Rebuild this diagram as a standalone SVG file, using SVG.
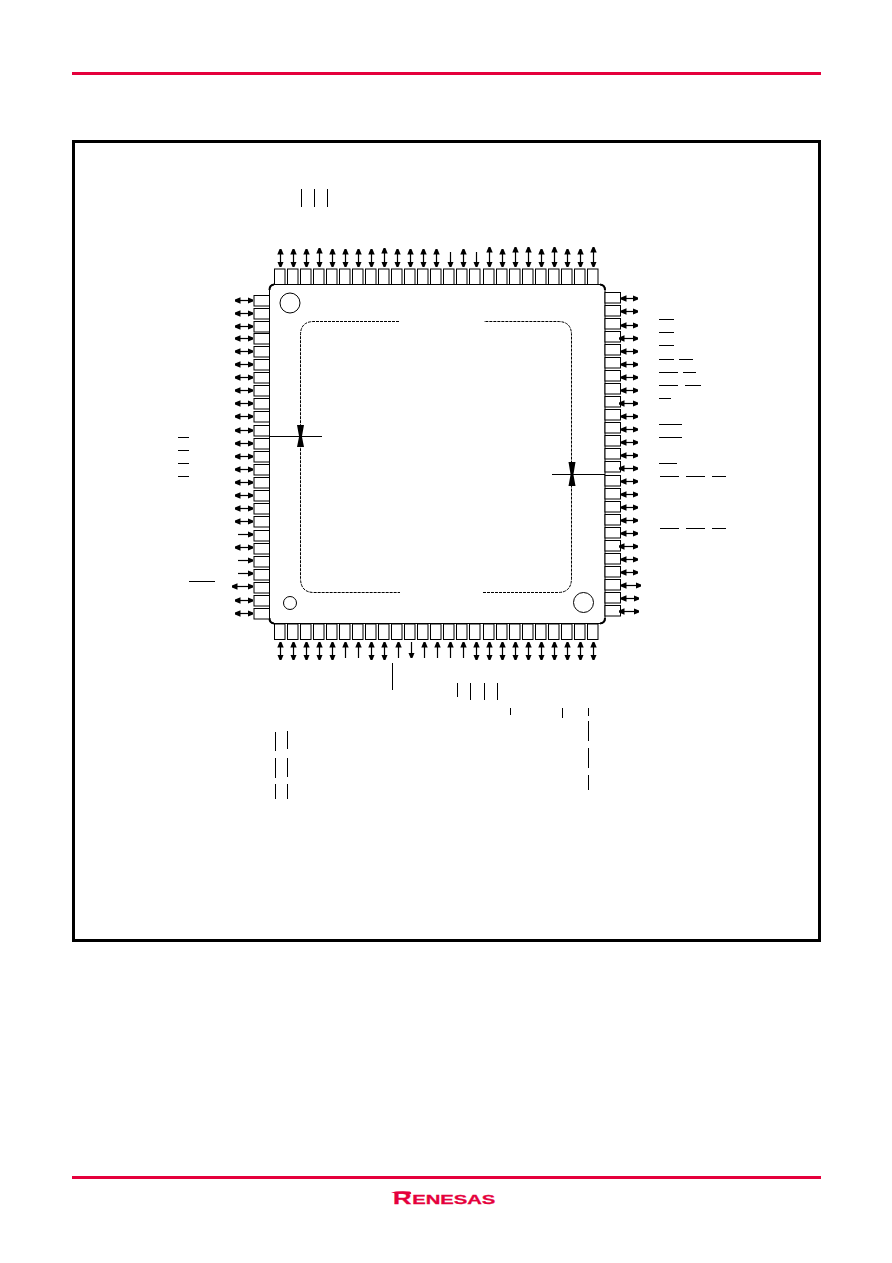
<svg xmlns="http://www.w3.org/2000/svg" width="892" height="1263" viewBox="0 0 892 1263">
<style>
.pin{fill:#fff;stroke:#000;stroke-width:1}
.bar{stroke:#000;stroke-width:1;fill:none}
.red{fill:#e5003c}
.dbl{stroke:#000;stroke-width:1.2;fill:none;marker-start:url(#ah);marker-end:url(#ah)}
.one{stroke:#000;stroke-width:1.2;fill:none;marker-end:url(#ah)}
.dash{stroke:#000;stroke-width:1;fill:none;stroke-dasharray:3 1}
.logo{font-family:"Liberation Sans",Arial,sans-serif;font-weight:700;fill:#e5003c;stroke:#e5003c;stroke-width:.3}
</style>
<defs>
<marker id="ah" markerUnits="userSpaceOnUse" markerWidth="7" markerHeight="7" refX="5.5" refY="3.5" orient="auto-start-reverse"><path d="M0 0.3L5.5 2.6V4.4L0 6.7Z" fill="#000"/></marker>
<g id="pinH"><rect class="pin" width="15.5" height="10.5"/></g>
<g id="pinV"><rect class="pin" width="10.5" height="15.5"/></g>
</defs>
<g id="header-rule"><rect class="red" x="72" y="72" width="749" height="3"/></g>
<g id="footer-rule"><rect class="red" x="72" y="1176" width="749" height="3"/></g>
<g id="frame"><rect x="73.5" y="141.5" width="746" height="799" fill="none" stroke="#000" stroke-width="3"/></g>
<g id="chip">
<path d="M274 284.5H600.5Q605 284.5 605 289V619Q605 623.5 600.5 623.5H274Q269.5 623.5 269.5 619V289Q269.5 284.5 274 284.5Z" fill="#fff" stroke="#000" stroke-width="1"/>
<path d="M269.5 290Q269.500 285 274 284.500M600 284.500Q605 285 605 290M605 618Q605 623 600 623.500M274 623.500Q269.500 623 269.500 618" fill="none" stroke="#000" stroke-width="2"/>
<circle cx="290" cy="303" r="10" fill="none" stroke="#000"/>
<circle cx="290" cy="603" r="6.500" fill="none" stroke="#000"/>
<circle cx="583.500" cy="602.500" r="10" fill="none" stroke="#000"/>
<path class="dash" d="M399 321.500H314Q300.500 321.500 300.500 335V578Q300.500 592.500 314 592.500H400M483 592.500H558Q571.500 592.500 571.500 578V335Q571.500 321.500 558 321.500H484"/>
</g>
<g id="pins-top">
<use id="pt1" href="#pinV" x="274.5" y="269"/><use id="pt2" href="#pinV" x="287.5" y="269"/><use id="pt3" href="#pinV" x="300.5" y="269"/><use id="pt4" href="#pinV" x="313.5" y="269"/><use id="pt5" href="#pinV" x="326.5" y="269"/><use id="pt6" href="#pinV" x="339.5" y="269"/><use id="pt7" href="#pinV" x="352.5" y="269"/><use id="pt8" href="#pinV" x="365.5" y="269"/><use id="pt9" href="#pinV" x="378.5" y="269"/><use id="pt10" href="#pinV" x="391.5" y="269"/><use id="pt11" href="#pinV" x="404.5" y="269"/><use id="pt12" href="#pinV" x="417.5" y="269"/><use id="pt13" href="#pinV" x="430.5" y="269"/><use id="pt14" href="#pinV" x="443.5" y="269"/><use id="pt15" href="#pinV" x="456.5" y="269"/><use id="pt16" href="#pinV" x="469.5" y="269"/><use id="pt17" href="#pinV" x="483.5" y="269"/><use id="pt18" href="#pinV" x="496.5" y="269"/><use id="pt19" href="#pinV" x="509.5" y="269"/><use id="pt20" href="#pinV" x="522.5" y="269"/><use id="pt21" href="#pinV" x="535.5" y="269"/><use id="pt22" href="#pinV" x="548.5" y="269"/><use id="pt23" href="#pinV" x="561.5" y="269"/><use id="pt24" href="#pinV" x="574.5" y="269"/><use id="pt25" href="#pinV" x="587.5" y="269"/>
</g>
<g id="pins-bottom">
<use id="pb1" href="#pinV" x="274.5" y="624"/><use id="pb2" href="#pinV" x="287.5" y="624"/><use id="pb3" href="#pinV" x="300.5" y="624"/><use id="pb4" href="#pinV" x="313.5" y="624"/><use id="pb5" href="#pinV" x="326.5" y="624"/><use id="pb6" href="#pinV" x="339.5" y="624"/><use id="pb7" href="#pinV" x="352.5" y="624"/><use id="pb8" href="#pinV" x="365.5" y="624"/><use id="pb9" href="#pinV" x="378.5" y="624"/><use id="pb10" href="#pinV" x="391.5" y="624"/><use id="pb11" href="#pinV" x="404.5" y="624"/><use id="pb12" href="#pinV" x="417.5" y="624"/><use id="pb13" href="#pinV" x="430.5" y="624"/><use id="pb14" href="#pinV" x="443.5" y="624"/><use id="pb15" href="#pinV" x="456.5" y="624"/><use id="pb16" href="#pinV" x="469.5" y="624"/><use id="pb17" href="#pinV" x="483.5" y="624"/><use id="pb18" href="#pinV" x="496.5" y="624"/><use id="pb19" href="#pinV" x="509.5" y="624"/><use id="pb20" href="#pinV" x="522.5" y="624"/><use id="pb21" href="#pinV" x="535.5" y="624"/><use id="pb22" href="#pinV" x="548.5" y="624"/><use id="pb23" href="#pinV" x="561.5" y="624"/><use id="pb24" href="#pinV" x="574.5" y="624"/><use id="pb25" href="#pinV" x="587.5" y="624"/>
</g>
<g id="pins-left">
<use id="pl1" href="#pinH" x="254" y="295.5"/><use id="pl2" href="#pinH" x="254" y="308.5"/><use id="pl3" href="#pinH" x="254" y="321.5"/><use id="pl4" href="#pinH" x="254" y="333.5"/><use id="pl5" href="#pinH" x="254" y="346.5"/><use id="pl6" href="#pinH" x="254" y="359.5"/><use id="pl7" href="#pinH" x="254" y="372.5"/><use id="pl8" href="#pinH" x="254" y="385.5"/><use id="pl9" href="#pinH" x="254" y="398.5"/><use id="pl10" href="#pinH" x="254" y="411.5"/><use id="pl11" href="#pinH" x="254" y="425.5"/><use id="pl12" href="#pinH" x="254" y="438.5"/><use id="pl13" href="#pinH" x="254" y="451.5"/><use id="pl14" href="#pinH" x="254" y="464.5"/><use id="pl15" href="#pinH" x="254" y="477.5"/><use id="pl16" href="#pinH" x="254" y="490.5"/><use id="pl17" href="#pinH" x="254" y="503.5"/><use id="pl18" href="#pinH" x="254" y="516.5"/><use id="pl19" href="#pinH" x="254" y="530.5"/><use id="pl20" href="#pinH" x="254" y="543.5"/><use id="pl21" href="#pinH" x="254" y="556.5"/><use id="pl22" href="#pinH" x="254" y="569.5"/><use id="pl23" href="#pinH" x="254" y="582.5"/><use id="pl24" href="#pinH" x="254" y="595.5"/><use id="pl25" href="#pinH" x="254" y="608.5"/>
</g>
<g id="pins-right">
<use id="pr1" href="#pinH" x="605" y="292.5"/><use id="pr2" href="#pinH" x="605" y="305.5"/><use id="pr3" href="#pinH" x="605" y="318.5"/><use id="pr4" href="#pinH" x="605" y="331.5"/><use id="pr5" href="#pinH" x="605" y="344.5"/><use id="pr6" href="#pinH" x="605" y="357.5"/><use id="pr7" href="#pinH" x="605" y="370.5"/><use id="pr8" href="#pinH" x="605" y="383.5"/><use id="pr9" href="#pinH" x="605" y="396.5"/><use id="pr10" href="#pinH" x="605" y="409.5"/><use id="pr11" href="#pinH" x="605" y="422.5"/><use id="pr12" href="#pinH" x="605" y="435.5"/><use id="pr13" href="#pinH" x="605" y="448.5"/><use id="pr14" href="#pinH" x="605" y="461.5"/><use id="pr15" href="#pinH" x="605" y="475.5"/><use id="pr16" href="#pinH" x="605" y="488.5"/><use id="pr17" href="#pinH" x="605" y="501.5"/><use id="pr18" href="#pinH" x="605" y="514.5"/><use id="pr19" href="#pinH" x="605" y="527.5"/><use id="pr20" href="#pinH" x="605" y="540.5"/><use id="pr21" href="#pinH" x="605" y="553.5"/><use id="pr22" href="#pinH" x="605" y="566.5"/><use id="pr23" href="#pinH" x="605" y="579.5"/><use id="pr24" href="#pinH" x="605" y="592.5"/><use id="pr25" href="#pinH" x="605" y="605.5"/>
</g>
<g id="connectors">
<path class="dbl" d="M280.5 249V267"/><path class="dbl" d="M293.5 249V267"/><path class="dbl" d="M306.5 249V267"/><path class="dbl" d="M319.5 248V267"/><path class="dbl" d="M332.5 249V267"/><path class="dbl" d="M345.5 249V267"/><path class="dbl" d="M358.5 249V267"/><path class="dbl" d="M371.5 249V267"/><path class="dbl" d="M384.5 248V267"/><path class="dbl" d="M397.5 249V267"/><path class="dbl" d="M410.5 249V267"/><path class="dbl" d="M423.5 249V267"/><path class="dbl" d="M436.5 249V267"/><path class="one" d="M450.5 252V267"/><path class="dbl" d="M463.5 249V267"/><path class="one" d="M476.5 252V267"/><path class="dbl" d="M489.5 247V267"/><path class="dbl" d="M502.5 249V267"/><path class="dbl" d="M515.5 247V267"/><path class="dbl" d="M528.5 247V267"/><path class="dbl" d="M541.5 249V267"/><path class="dbl" d="M554.5 247V267"/><path class="dbl" d="M567.5 249V267"/><path class="dbl" d="M580.5 249V267"/><path class="dbl" d="M593.5 247V267"/>
<path class="dbl" d="M280.5 642V660"/><path class="dbl" d="M293.5 642V660"/><path class="dbl" d="M306.5 642V660"/><path class="dbl" d="M319.5 642V660"/><path class="dbl" d="M332.5 642V660"/><path class="one" d="M345.5 658V642"/><path class="one" d="M358.5 658V642"/><path class="dbl" d="M371.5 642V660"/><path class="dbl" d="M384.5 642V660"/><path class="one" d="M398.5 658V642"/><path class="one" d="M411.5 642V658"/><path class="one" d="M424.5 658V642"/><path class="one" d="M437.5 658V642"/><path class="one" d="M450.5 658V642"/><path class="one" d="M463.5 658V642"/><path class="dbl" d="M476.5 642V660"/><path class="dbl" d="M489.5 642V660"/><path class="dbl" d="M502.5 642V660"/><path class="dbl" d="M515.5 642V660"/><path class="dbl" d="M528.5 642V660"/><path class="dbl" d="M541.5 642V660"/><path class="dbl" d="M554.5 642V660"/><path class="dbl" d="M567.5 642V660"/><path class="dbl" d="M580.5 642V660"/><path class="dbl" d="M593.5 642V660"/>
<path class="dbl" d="M235 300.5H253"/><path class="dbl" d="M235 313.5H253"/><path class="dbl" d="M235 326.5H253"/><path class="dbl" d="M235 338.5H253"/><path class="dbl" d="M235 351.5H253"/><path class="dbl" d="M235 364.5H253"/><path class="dbl" d="M235 377.5H253"/><path class="dbl" d="M235 390.5H253"/><path class="dbl" d="M235 403.5H253"/><path class="dbl" d="M235 416.5H253"/><path class="dbl" d="M235 430.5H253"/><path class="dbl" d="M235 443.5H253"/><path class="dbl" d="M235 456.5H253"/><path class="dbl" d="M235 469.5H253"/><path class="dbl" d="M235 482.5H253"/><path class="dbl" d="M235 495.5H253"/><path class="dbl" d="M235 508.5H253"/><path class="dbl" d="M235 521.5H253"/><path class="one" d="M238 534.5H253"/><path class="dbl" d="M235 547.5H253"/><path class="one" d="M238 560.5H253"/><path class="one" d="M238 573.5H253"/><path class="dbl" d="M232 586.5H253"/><path class="dbl" d="M235 600.5H253"/><path class="dbl" d="M235 613.5H253"/>
<path class="dbl" d="M621 298.5H638"/><path class="dbl" d="M621 311.5H638"/><path class="dbl" d="M621 325.5H638"/><path class="dbl" d="M619 338.5H638"/><path class="dbl" d="M621 351.5H638"/><path class="dbl" d="M621 364.5H638"/><path class="dbl" d="M621 377.5H638"/><path class="dbl" d="M621 390.5H638"/><path class="dbl" d="M619 403.5H638"/><path class="dbl" d="M621 416.5H638"/><path class="dbl" d="M621 429.5H638"/><path class="dbl" d="M621 442.5H638"/><path class="dbl" d="M621 455.5H638"/><path class="dbl" d="M619 468.5H638"/><path class="dbl" d="M621 481.5H638"/><path class="dbl" d="M621 494.5H638"/><path class="dbl" d="M621 507.5H638"/><path class="dbl" d="M621 520.5H638"/><path class="dbl" d="M621 533.5H638"/><path class="dbl" d="M619 546.5H638"/><path class="dbl" d="M621 559.5H638"/><path class="dbl" d="M621 572.5H638"/><path class="dbl" d="M621 585.5H641"/><path class="dbl" d="M621 598.5H639"/><path class="dbl" d="M619 611.5H639"/>
<path class="bar" d="M270 436.500H322M552 474.500H605"/>
<path d="M297 425H304L302 436H299ZM297 447H304L302 437H299ZM568.500 462H575.500L573.500 474H570.500ZM568.500 486H575.500L573.500 475H570.500Z" fill="#000"/>
</g>
<g id="overbars">
<path class="bar" d="M301.500 189V207M314.500 189V207M327.500 189V207"/>
<path class="bar" d="M659 319.500H674M659 332.500H674M659 345.500H674M659 359.500H674M679 359.500H693M659 372.500H678M683 372.500H696M659 385.500H678M685 385.500H701M659 398.500H671M659 424.500H682M659 437.500H682M659 463.500H677M660 476.500H679M686 476.500H705M712 476.500H726M660 528.500H679M686 528.500H705M712 528.500H726"/>
<path class="bar" d="M178 437.500H189M178 450.500H189M178 463.500H189M178 476.500H189M189 581.500H215"/>
<path class="bar" d="M392.500 663V690M457.500 683V697M470.500 683V700M484.500 683V700M497.500 683V700M510.500 708V715M562.500 708V718M588.500 708V716M588.500 721V741M588.500 748V768M588.500 775V790"/>
<path class="bar" d="M275.500 732V751M287.500 731V749M275.500 758V778M287.500 758V777M275.500 784V799M287.500 784V799"/>
</g>
<g id="logo">
<path class="red" d="M391 1192.500Q400 1190.500 409 1191.500Q412 1192 411 1194L396 1193.500Z"/>
<text class="logo" transform="translate(393 1204) scale(1.5 1)" font-size="13.500"><tspan font-size="17">R</tspan><tspan dx="0.500">ENESAS</tspan></text>
</g>
</svg>
